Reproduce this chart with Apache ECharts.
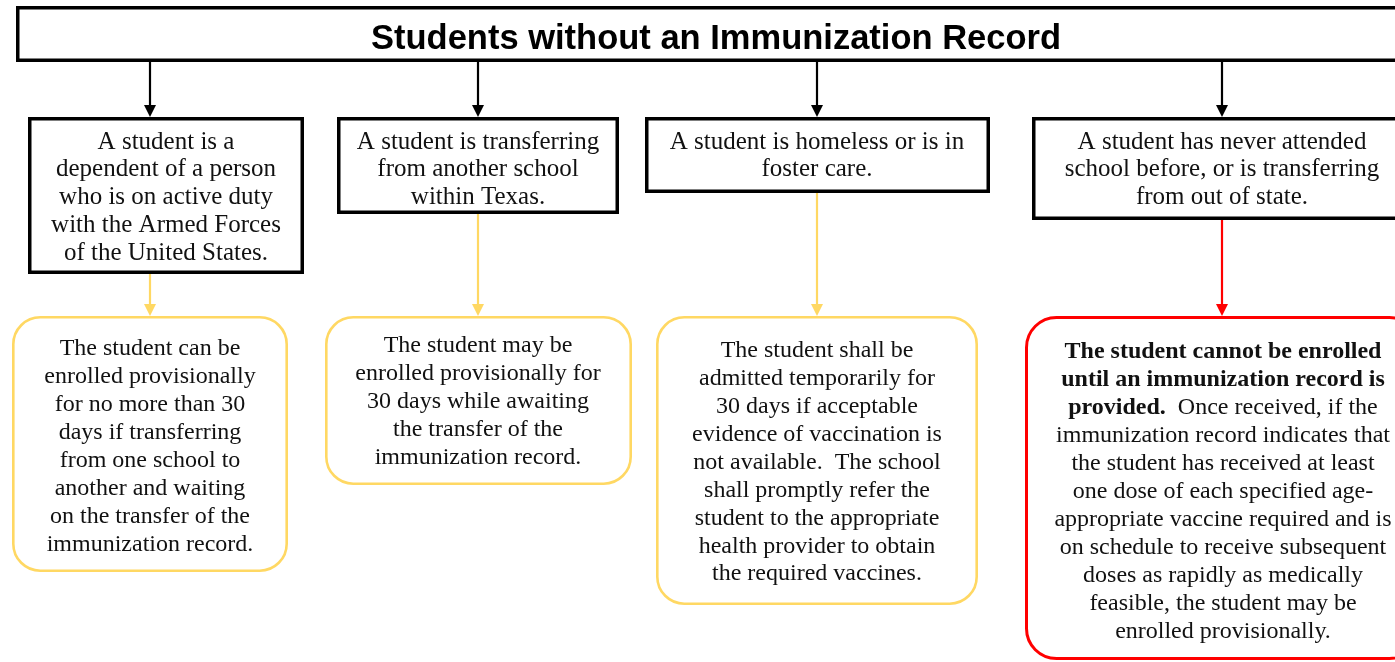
<!DOCTYPE html>
<html>
<head>
<meta charset="utf-8">
<script src="https://cdn.jsdelivr.net/npm/echarts@6/dist/echarts.min.js"></script>
<style>
  html, body { margin: 0; padding: 0; background: #fff; }
  #main { width: 1395px; height: 662px; }
</style>
</head>
<body>
<div id="main"></div>
<script>
const title = 'Students without an Immunization Record'

// situation boxes (black)
const situations = [
  ['A student is a', 'dependent of a person', 'who is on active duty', 'with the Armed Forces', 'of the United States.'],
  ['A student is transferring', 'from another school', 'within Texas.'],
  ['A student is homeless or is in', 'foster care.'],
  ['A student has never attended', 'school before, or is transferring', 'from out of state.']
]

// outcome boxes (yellow)
const provisional = [
  ['The student can be', 'enrolled provisionally', 'for no more than 30', 'days if transferring', 'from one school to', 'another and waiting', 'on the transfer of the', 'immunization record.'],
  ['The student may be', 'enrolled provisionally for', '30 days while awaiting', 'the transfer of the', 'immunization record.'],
  ['The student shall be', 'admitted temporarily for', '30 days if acceptable', 'evidence of vaccination is', 'not available.  The school', 'shall promptly refer the', 'student to the appropriate', 'health provider to obtain', 'the required vaccines.']
]

// outcome box (red), bold parts marked with {b|...}
const refused = [
  '{b|The student cannot be enrolled}',
  '{b|until an immunization record is}',
  '{b|provided.}{r|  Once received, if the}',
  '{r|immunization record indicates that}',
  '{r|the student has received at least}',
  '{r|one dose of each specified age-}',
  '{r|appropriate vaccine required and is}',
  '{r|on schedule to receive subsequent}',
  '{r|doses as rapidly as medically}',
  '{r|feasible, the student may be}',
  '{r|enrolled provisionally.}'
]

// layout
const topBoxes = [
  { x: 28, y: 117, w: 276, h: 157, cx: 166, ax: 150 },
  { x: 337, y: 117, w: 282, h: 97, cx: 478, ax: 478 },
  { x: 645, y: 117, w: 345, h: 76, cx: 817, ax: 817 },
  { x: 1032, y: 117, w: 380, h: 103, cx: 1222, ax: 1222 }
]
const bottomBoxes = [
  { x: 12, y: 316, w: 276, h: 256, cx: 150, ty: 348 },
  { x: 325, y: 316, w: 307, h: 169, cx: 478, ty: 345 },
  { x: 656, y: 316, w: 322, h: 289, cx: 817, ty: 350 },
  { x: 1025, y: 316, w: 396, h: 344, cx: 1223, ty: 351 }
]
const SERIF = '"Liberation Serif", "Times New Roman", serif'
const YELLOW = '#FFD863'
const RED = '#FF0000'

const graphic = []

function box (b, color, lw, r) {
  graphic.push({
    type: 'rect',
    shape: { x: b.x + lw / 2, y: b.y + lw / 2, width: b.w - lw, height: b.h - lw, r: r },
    style: { fill: '#fff', stroke: color, lineWidth: lw },
    z: 1
  })
}

function arrow (x, y1, y2, color) {
  graphic.push({
    type: 'line',
    shape: { x1: x, y1: y1, x2: x, y2: y2 - 10 },
    style: { stroke: color, lineWidth: 2.2 },
    z: 2
  })
  graphic.push({
    type: 'polygon',
    shape: { points: [[x - 6, y2 - 12], [x + 6, y2 - 12], [x, y2]] },
    style: { fill: color },
    z: 2
  })
}

function lines (arr, cx, y0, size, lineH, rich) {
  arr.forEach((t, i) => {
    graphic.push({
      type: 'text',
      x: cx,
      y: y0 + i * lineH,
      style: {
        text: t,
        align: 'center',
        verticalAlign: 'middle',
        fontFamily: SERIF,
        fontSize: size,
        fill: '#111',
        rich: rich
      },
      z: 3
    })
  })
}

// title box
graphic.push({
  type: 'rect',
  shape: { x: 17.75, y: 7.75, width: 1400, height: 52.5 },
  style: { fill: '#fff', stroke: '#000', lineWidth: 3.5 },
  z: 1
})
graphic.push({
  type: 'text',
  x: 716,
  y: 39,
  style: {
    text: title,
    align: 'center',
    verticalAlign: 'middle',
    fontFamily: '"Liberation Sans", Arial, sans-serif',
    fontWeight: 'bold',
    fontSize: 34.5,
    fill: '#000'
  },
  z: 3
})

topBoxes.forEach((b, i) => {
  arrow(b.ax, 62, b.y, '#000')
  box(b, '#000', 3.5, 0)
  lines(situations[i], b.cx, 142, 25, 27.8)
  const nb = bottomBoxes[i]
  arrow(b.ax, b.y + b.h, nb.y, i === 3 ? RED : YELLOW)
})

bottomBoxes.forEach((b, i) => {
  if (i < 3) {
    box(b, YELLOW, 2.6, 27)
    lines(provisional[i], b.cx, b.ty + 1, 24, 27.9)
  } else {
    box(b, RED, 3, 30)
    lines(refused, b.cx, b.ty + 1, 24, 28, {
      b: { fontFamily: SERIF, fontSize: 24, fontWeight: 'bold', fill: '#111' },
      r: { fontFamily: SERIF, fontSize: 24, fill: '#111' }
    })
  }
})

const chart = echarts.init(document.getElementById('main'))
chart.setOption({
  backgroundColor: '#fff',
  animation: false,
  graphic: graphic
})
</script>
</body>
</html>
